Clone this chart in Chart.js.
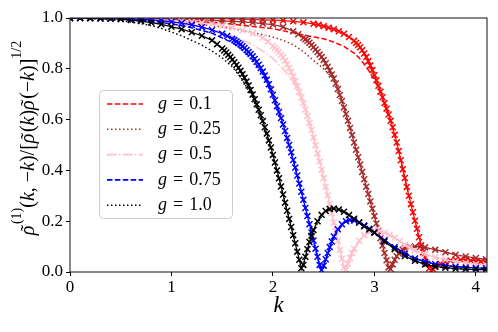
<!DOCTYPE html>
<html>
<head>
<meta charset="utf-8">
<script src="https://cdn.jsdelivr.net/npm/chart.js@4.4.1/dist/chart.umd.min.js"></script>
<style>
html,body{margin:0;padding:0;background:#fff;}
canvas{display:block;}
</style>
</head>
<body>
<canvas id="c" width="498" height="332"></canvas>
<script>
// ---------- data ----------
const gLabels = ['0.1', '0.25', '0.5', '0.75', '1.0'];
const xTicks = [0, 1, 2, 3, 4];
const yTicks = [0, 0.2, 0.4, 0.6, 0.8, 1.0];

// g = 0.1 : markers (x) and dashed curve
const kG01 = [0,0.1,0.2,0.3,0.4,0.5,0.6,0.7,0.8,0.9,1.0,1.1,1.2,1.3,1.4,1.5,1.6,1.7,1.8,1.9,2.0,2.1,2.2,2.3,2.4,2.45,2.5,2.55,2.6,2.65,2.7,2.75,2.8,2.82,2.84,2.86,2.88,2.9,2.92,2.94,2.96,2.98,3.0,3.02,3.04,3.06,3.08,3.1,3.12,3.14,3.16,3.18,3.2,3.22,3.24,3.26,3.28,3.3,3.32,3.34,3.36,3.38,3.4,3.42,3.44,3.46,3.48,3.5,3.52,3.54,3.56,3.58,3.6,3.65,3.7,3.75,3.8,3.85,3.9,3.95,4.0,4.05,4.1];
const vG01 = [1.000,1.000,1.000,1.000,1.000,0.999,0.999,0.999,0.998,0.998,0.998,0.998,0.998,0.997,0.997,0.997,0.996,0.995,0.994,0.993,0.992,0.990,0.987,0.983,0.977,0.973,0.968,0.962,0.956,0.948,0.938,0.925,0.910,0.902,0.894,0.885,0.873,0.860,0.846,0.830,0.813,0.795,0.775,0.755,0.733,0.710,0.688,0.665,0.643,0.620,0.595,0.570,0.540,0.510,0.476,0.440,0.405,0.370,0.335,0.300,0.267,0.235,0.202,0.170,0.137,0.105,0.078,0.055,0.032,0.014,0.005,0.010,0.020,0.032,0.040,0.045,0.048,0.048,0.047,0.045,0.043,0.041,0.040];
const kG01Line = [0,0.5,1.0,1.5,2.0,2.2,2.3,2.4,2.5,2.6,2.7,2.8,2.85,2.9,2.95,3.0,3.05,3.1,3.15,3.2,3.25,3.3,3.35,3.4,3.45,3.5,3.55,3.6,3.7,3.8,3.9,4.0,4.1];
const vG01Line = [1.0,0.998,0.993,0.98,0.958,0.942,0.933,0.926,0.918,0.905,0.888,0.862,0.843,0.818,0.79,0.755,0.72,0.665,0.607,0.54,0.458,0.37,0.283,0.202,0.12,0.055,0.008,0.02,0.04,0.048,0.047,0.043,0.04];

// g = 0.25
const kG025 = [0,0.1,0.2,0.3,0.4,0.5,0.6,0.7,0.8,0.9,1.0,1.1,1.2,1.3,1.4,1.5,1.6,1.7,1.8,1.9,2.0,2.1,2.2,2.25,2.3,2.32,2.34,2.36,2.38,2.4,2.42,2.44,2.46,2.48,2.5,2.52,2.54,2.56,2.58,2.6,2.62,2.64,2.66,2.68,2.7,2.72,2.74,2.76,2.78,2.8,2.82,2.84,2.86,2.88,2.9,2.92,2.94,2.96,2.98,3.0,3.02,3.04,3.06,3.08,3.1,3.12,3.14,3.16,3.18,3.2,3.22,3.24,3.26,3.28,3.3,3.35,3.4,3.45,3.5,3.6,3.7,3.8,3.9,4.0,4.1];
const vG025 = [1.000,1.000,1.000,1.000,0.999,0.999,0.999,0.998,0.998,0.997,0.996,0.995,0.994,0.993,0.991,0.989,0.987,0.985,0.982,0.978,0.974,0.965,0.948,0.936,0.922,0.916,0.910,0.903,0.894,0.885,0.876,0.866,0.856,0.846,0.835,0.822,0.808,0.793,0.778,0.762,0.742,0.720,0.697,0.673,0.648,0.622,0.595,0.567,0.539,0.510,0.481,0.452,0.423,0.394,0.365,0.336,0.307,0.278,0.249,0.220,0.191,0.162,0.133,0.104,0.075,0.046,0.018,0.012,0.030,0.048,0.062,0.073,0.082,0.088,0.093,0.098,0.100,0.099,0.097,0.088,0.078,0.068,0.061,0.055,0.050];
const kG025Line = [0,0.5,1.0,1.2,1.4,1.5,1.6,1.8,2.0,2.1,2.2,2.3,2.4,2.5,2.55,2.6,2.7,2.8,2.9,3.0,3.1,3.15,3.2,3.3,3.4,3.6,3.8,4.0,4.1];
const vG025Line = [1.0,0.997,0.985,0.978,0.97,0.965,0.958,0.943,0.925,0.912,0.895,0.868,0.833,0.80,0.78,0.76,0.648,0.51,0.365,0.22,0.075,0.01,0.048,0.093,0.1,0.088,0.068,0.055,0.05];

// g = 0.5
const kG05 = [0,0.1,0.2,0.3,0.4,0.5,0.6,0.7,0.8,0.9,1.0,1.1,1.2,1.3,1.4,1.5,1.6,1.7,1.8,1.9,1.95,2.0,2.02,2.04,2.06,2.08,2.1,2.12,2.14,2.16,2.18,2.2,2.22,2.24,2.26,2.28,2.3,2.32,2.34,2.36,2.38,2.4,2.42,2.44,2.46,2.48,2.5,2.52,2.54,2.56,2.58,2.6,2.62,2.64,2.66,2.68,2.7,2.72,2.74,2.76,2.78,2.8,2.85,2.9,2.95,3.0,3.05,3.1,3.15,3.2,3.25,3.3,3.35,3.4,3.5,3.6,3.7,3.8,3.9,4.0,4.1];
const vG05 = [1.000,1.000,1.000,0.999,0.999,0.998,0.997,0.996,0.995,0.993,0.991,0.988,0.985,0.981,0.976,0.970,0.962,0.952,0.939,0.922,0.907,0.890,0.882,0.874,0.865,0.855,0.845,0.832,0.818,0.803,0.787,0.770,0.751,0.731,0.709,0.687,0.665,0.640,0.614,0.587,0.559,0.530,0.499,0.467,0.435,0.403,0.370,0.336,0.302,0.267,0.231,0.195,0.159,0.123,0.087,0.052,0.018,0.010,0.032,0.055,0.075,0.092,0.123,0.145,0.158,0.164,0.162,0.155,0.146,0.135,0.121,0.107,0.095,0.085,0.070,0.058,0.048,0.041,0.035,0.031,0.028];
const kG05Line = [0,0.5,1.0,1.2,1.4,1.6,1.8,1.9,2.0,2.1,2.2,2.3,2.35,2.4,2.5,2.6,2.65,2.7,2.72,2.75,2.8,2.9,3.0,3.1,3.2,3.3,3.4,3.6,3.8,4.0,4.1];
const vG05Line = [1.0,0.995,0.98,0.97,0.955,0.93,0.895,0.87,0.84,0.80,0.75,0.665,0.60,0.53,0.37,0.195,0.105,0.018,0.008,0.045,0.092,0.145,0.164,0.155,0.135,0.107,0.085,0.058,0.041,0.031,0.028];

// g = 0.75
const kG075 = [0,0.1,0.2,0.3,0.4,0.5,0.6,0.7,0.8,0.9,1.0,1.1,1.2,1.3,1.4,1.5,1.55,1.6,1.62,1.64,1.66,1.68,1.7,1.72,1.74,1.76,1.78,1.8,1.82,1.84,1.86,1.88,1.9,1.92,1.94,1.96,1.98,2.0,2.02,2.04,2.06,2.08,2.1,2.12,2.14,2.16,2.18,2.2,2.22,2.24,2.26,2.28,2.3,2.32,2.34,2.36,2.38,2.4,2.42,2.44,2.46,2.48,2.5,2.52,2.54,2.56,2.58,2.6,2.64,2.68,2.72,2.76,2.8,2.85,2.9,2.95,3.0,3.1,3.2,3.3,3.4,3.5,3.6,3.7,3.8,3.9,4.0,4.1];
const vG075 = [1.000,1.000,1.000,0.999,0.999,0.998,0.997,0.995,0.993,0.990,0.985,0.980,0.973,0.964,0.953,0.938,0.929,0.918,0.913,0.907,0.902,0.896,0.889,0.882,0.874,0.866,0.858,0.849,0.839,0.828,0.816,0.803,0.789,0.774,0.757,0.739,0.719,0.698,0.676,0.653,0.630,0.606,0.581,0.555,0.528,0.500,0.471,0.441,0.411,0.380,0.348,0.316,0.284,0.252,0.220,0.188,0.156,0.124,0.092,0.060,0.028,0.008,0.025,0.050,0.075,0.098,0.120,0.140,0.168,0.188,0.200,0.205,0.203,0.195,0.183,0.170,0.156,0.125,0.097,0.072,0.053,0.040,0.031,0.025,0.021,0.018,0.016,0.015];
const kG075Line = [0,0.5,0.8,1.0,1.2,1.4,1.6,1.7,1.8,1.9,2.0,2.1,2.2,2.3,2.4,2.47,2.5,2.6,2.7,2.8,2.9,3.0,3.2,3.4,3.6,3.8,4.0,4.1];
const vG075Line = [1.0,0.996,0.988,0.977,0.962,0.94,0.903,0.875,0.836,0.778,0.692,0.578,0.441,0.284,0.124,0.01,0.025,0.14,0.195,0.203,0.183,0.156,0.097,0.053,0.031,0.021,0.016,0.015];

// g = 1.0
const kG1 = [0,0.1,0.2,0.3,0.4,0.5,0.6,0.7,0.8,0.9,1.0,1.1,1.2,1.3,1.4,1.45,1.5,1.52,1.54,1.56,1.58,1.6,1.62,1.64,1.66,1.68,1.7,1.72,1.74,1.76,1.78,1.8,1.82,1.84,1.86,1.88,1.9,1.92,1.94,1.96,1.98,2.0,2.02,2.04,2.06,2.08,2.1,2.12,2.14,2.16,2.18,2.2,2.22,2.24,2.26,2.28,2.3,2.32,2.34,2.36,2.38,2.4,2.44,2.48,2.52,2.56,2.6,2.65,2.7,2.75,2.8,2.85,2.9,2.95,3.0,3.1,3.2,3.3,3.4,3.5,3.6,3.7,3.8,3.9,4.0,4.1];
const vG1 = [1.000,1.000,0.999,0.998,0.997,0.995,0.992,0.988,0.982,0.975,0.966,0.956,0.944,0.930,0.912,0.897,0.880,0.872,0.864,0.855,0.846,0.836,0.826,0.815,0.804,0.792,0.779,0.765,0.750,0.734,0.717,0.699,0.680,0.660,0.639,0.617,0.594,0.570,0.545,0.518,0.490,0.461,0.431,0.400,0.369,0.337,0.305,0.273,0.241,0.209,0.177,0.145,0.113,0.080,0.048,0.015,0.028,0.060,0.090,0.118,0.143,0.165,0.200,0.225,0.240,0.248,0.250,0.246,0.237,0.224,0.210,0.195,0.180,0.167,0.155,0.120,0.090,0.063,0.044,0.030,0.022,0.017,0.013,0.011,0.010,0.009];
const kG1Line = [0,0.3,0.5,0.7,0.8,0.9,1.0,1.1,1.2,1.3,1.4,1.5,1.6,1.7,1.8,1.9,2.0,2.1,2.2,2.28,2.3,2.4,2.5,2.6,2.7,2.8,2.9,3.0,3.2,3.4,3.6,3.8,4.0,4.1];
const vG1Line = [1.0,0.996,0.99,0.978,0.97,0.959,0.945,0.930,0.912,0.893,0.870,0.843,0.808,0.757,0.685,0.585,0.458,0.305,0.145,0.012,0.028,0.165,0.233,0.25,0.237,0.21,0.18,0.155,0.09,0.044,0.022,0.013,0.01,0.009];

// ---------- styling ----------
const SERIF = "'Liberation Serif', 'DejaVu Serif', serif";
const series = [
  {g: gLabels[0], color: '#ff0000', k: kG01,  v: vG01,  kl: kG01Line,  vl: vG01Line,  dash: [5.5, 2.4]},
  {g: gLabels[1], color: '#a52a2a', k: kG025, v: vG025, kl: kG025Line, vl: vG025Line, dash: [1.5, 2.5]},
  {g: gLabels[2], color: '#ffc0cb', k: kG05,  v: vG05,  kl: kG05Line,  vl: vG05Line,  dash: [9.6, 2.4, 1.5, 2.4]},
  {g: gLabels[3], color: '#0000ff', k: kG075, v: vG075, kl: kG075Line, vl: vG075Line, dash: [5.5, 2.4]},
  {g: gLabels[4], color: '#000000', k: kG1,   v: vG1,   kl: kG1Line,   vl: vG1Line,   dash: [1.5, 2.5]}
];
const toXY = (ks, vs) => ks.map((k, i) => ({x: k, y: vs[i]}));

const datasets = [];
series.forEach(s => {
  datasets.push({
    data: toXY(s.k, s.v), showLine: true, borderColor: s.color, borderWidth: 1.2,
    pointStyle: 'crossRot', pointRadius: 4.2, pointBorderWidth: 1.5,
    pointBorderColor: s.color, pointBackgroundColor: s.color, tension: 0
  });
  datasets.push({
    data: toXY(s.kl, s.vl), showLine: true, borderColor: s.color, borderWidth: 1.5,
    borderDash: s.dash, pointRadius: 0, tension: 0
  });
});
datasets.forEach((d, i) => { d.order = datasets.length - i; });

// frame (all four spines)
const framePlugin = {
  id: 'frame',
  afterDatasetsDraw(chart) {
    const {ctx, chartArea: a} = chart;
    ctx.save();
    ctx.strokeStyle = '#262626';
    ctx.lineWidth = 1.1;
    ctx.strokeRect(a.left, a.top, a.right - a.left, a.bottom - a.top);
    ctx.restore();
  }
};

// legend inside the axes
const legendPlugin = {
  id: 'innerLegend',
  afterDraw(chart) {
    const ctx = chart.ctx;
    ctx.save();
    const x0 = 99.5, y0 = 90.5, w = 133, h = 128, r = 4;
    ctx.beginPath();
    ctx.moveTo(x0 + r, y0);
    ctx.arcTo(x0 + w, y0, x0 + w, y0 + h, r);
    ctx.arcTo(x0 + w, y0 + h, x0, y0 + h, r);
    ctx.arcTo(x0, y0 + h, x0, y0, r);
    ctx.arcTo(x0, y0, x0 + w, y0, r);
    ctx.closePath();
    ctx.fillStyle = 'rgba(255,255,255,0.8)';
    ctx.fill();
    ctx.strokeStyle = '#cccccc';
    ctx.lineWidth = 1;
    ctx.stroke();
    series.forEach((s, i) => {
      const y = 104 + i * 25.3;
      ctx.beginPath();
      ctx.setLineDash(s.dash);
      ctx.strokeStyle = s.color;
      ctx.lineWidth = 1.6;
      ctx.moveTo(107, y);
      ctx.lineTo(143, y);
      ctx.stroke();
      ctx.setLineDash([]);
      ctx.fillStyle = '#000';
      ctx.textBaseline = 'middle';
      ctx.textAlign = 'left';
      let x = 158;
      ctx.font = 'italic 18px ' + SERIF;
      ctx.fillText('g', x, y);
      x += ctx.measureText('g').width + 6;
      ctx.font = '18px ' + SERIF;
      ctx.fillText('=', x, y);
      x += ctx.measureText('=').width + 6;
      ctx.fillText(s.g, x, y);
    });
    ctx.restore();
  }
};

// axis titles
const titlesPlugin = {
  id: 'titles',
  afterDraw(chart) {
    const {ctx, chartArea: a} = chart;
    ctx.save();
    ctx.fillStyle = '#000';
    // x title
    ctx.font = 'italic 23px ' + SERIF;
    ctx.textAlign = 'center';
    ctx.textBaseline = 'middle';
    ctx.fillText('k', (a.left + a.right) / 2, 306);
    // y title (rotated, with superscripts); 't' marks a tilde accent
    const segs = [
      ['ρ', 'i', 0, 't'], ['(1)', 'n', 1], ['(', 'n', 0], ['k', 'i', 0], [', −', 'n', 0], ['k', 'i', 0],
      [')/[', 'n', 0], ['ρ', 'i', 0, 't'], ['(', 'n', 0], ['k', 'i', 0], [')', 'n', 0], ['ρ', 'i', 0, 't'],
      ['(−', 'n', 0], ['k', 'i', 0], [')]', 'n', 0], ['1/2', 'n', 1]
    ];
    const main = 20, sup = 14;
    const fontOf = sg => (sg[1] === 'i' ? 'italic ' : '') + (sg[2] ? sup : main) + 'px ' + SERIF;
    let total = 0;
    const widths = segs.map(sg => {
      ctx.font = fontOf(sg);
      const wd = ctx.measureText(sg[0]).width + (sg[3] ? 1.5 : 0);
      total += wd; return wd;
    });
    ctx.translate(34, (a.top + a.bottom) / 2 - 7);
    ctx.rotate(-Math.PI / 2);
    ctx.textBaseline = 'alphabetic';
    let x = -total / 2;
    segs.forEach((sg, i) => {
      ctx.font = fontOf(sg);
      ctx.textAlign = 'left';
      ctx.fillText(sg[0], x, sg[2] ? -13 : 0);
      if (sg[3]) {
        ctx.font = main + 'px ' + SERIF;
        ctx.textAlign = 'center';
        ctx.fillText('˜', x + widths[i] / 2 + 1.5, 1);
      }
      x += widths[i];
    });
    ctx.restore();
  }
};

new Chart(document.getElementById('c'), {
  type: 'scatter',
  data: {datasets},
  options: {
    responsive: false,
    animation: false,
    devicePixelRatio: 1,
    layout: {padding: {left: 0, right: 11, top: 18, bottom: 0}},
    plugins: {legend: {display: false}, tooltip: {enabled: false}, title: {display: false}},
    scales: {
      x: {
        type: 'linear', min: 0, max: 4.11,
        afterBuildTicks: s => { s.ticks = xTicks.map(v => ({value: v})); },
        afterFit: s => { s.height = 60; },
        grid: {display: true, drawOnChartArea: false, drawTicks: true, tickLength: 4, color: '#000', lineWidth: 1},
        border: {display: false},
        ticks: {font: {family: SERIF, size: 17}, color: '#000', padding: 1, maxRotation: 0, autoSkip: false,
                callback: v => String(v)}
      },
      y: {
        type: 'linear', min: 0, max: 1.0,
        afterBuildTicks: s => { s.ticks = yTicks.map(v => ({value: v})); },
        afterFit: s => { s.width = 70; },
        grid: {display: true, drawOnChartArea: false, drawTicks: true, tickLength: 4, color: '#000', lineWidth: 1},
        border: {display: false},
        ticks: {font: {family: SERIF, size: 17}, color: '#000', padding: 3, autoSkip: false,
                callback: v => v.toFixed(1)}
      }
    }
  },
  plugins: [framePlugin, legendPlugin, titlesPlugin]
});
</script>
</body>
</html>
